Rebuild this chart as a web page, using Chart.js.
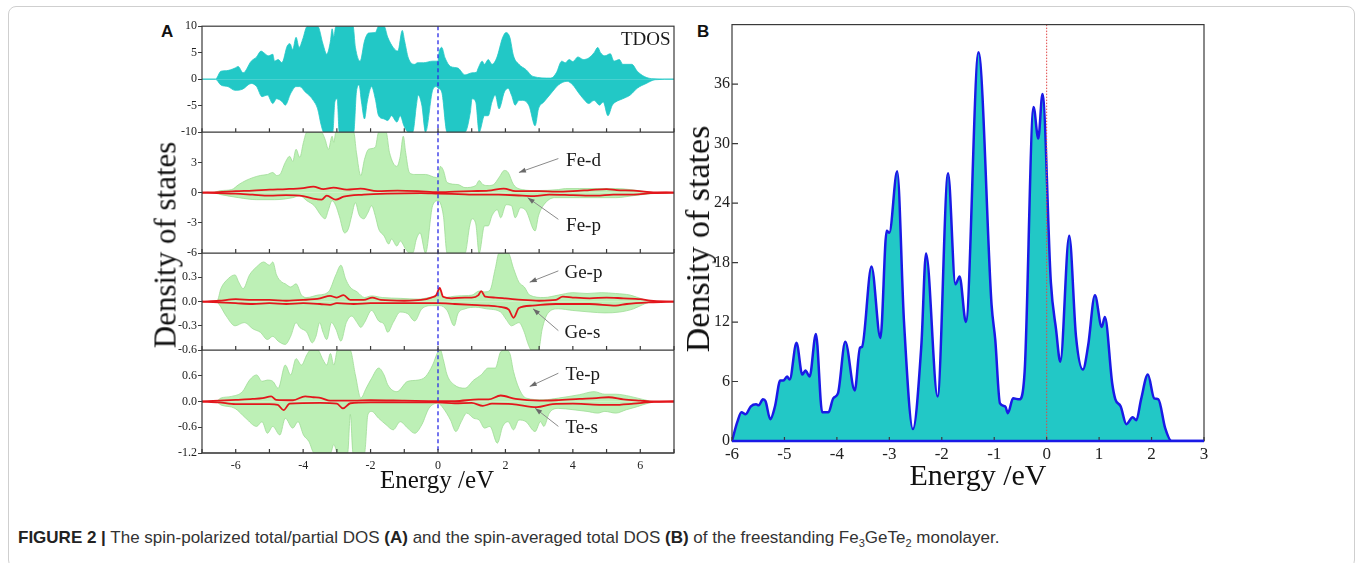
<!DOCTYPE html>
<html>
<head>
<meta charset="utf-8">
<script src="https://cdn.jsdelivr.net/npm/chart.js@4/dist/chart.umd.min.js"></script>
<style>
  html, body { margin: 0; padding: 0; background: #fff; }
  body { width: 1362px; height: 563px; position: relative; overflow: hidden; }
  .box { position: absolute; left: 8px; top: 6px; width: 1345px; height: 560px; border: 1px solid #cfcfcf; border-radius: 8px; }
  canvas { position: absolute; }
  .lbl { position: absolute; font-family: "Liberation Sans", Arial, sans-serif; font-weight: bold; font-size: 17px; color: #111; }
  .ttl { position: absolute; font-family: "Liberation Serif", "Times New Roman", serif; color: #111; white-space: nowrap; line-height: 1; }
  .rot { transform: translate(-50%, -50%) rotate(-90deg); }
  #cap { position: absolute; left: 18px; top: 529px; font-family: "Liberation Sans", Arial, sans-serif; font-size: 17px; color: #333; white-space: nowrap; line-height: 1; }
  #cap b { color: #222; }
</style>
</head>
<body>
<div class="box"></div>
<div class="lbl" style="left:161px; top:22px;">A</div>
<div class="lbl" style="left:697px; top:22px;">B</div>
<canvas id="dosA" width="534" height="455" style="left:150px; top:18px;"></canvas>
<canvas id="dosB" width="526" height="466" style="left:690px; top:13px;"></canvas>
<div class="ttl rot" style="left:165px; top:245px; font-size:31px;">Density of states</div>
<div class="ttl rot" style="left:698px; top:239px; font-size:34px;">Density of states</div>
<div class="ttl" style="left:437px; top:467px; font-size:25px; transform:translateX(-50%);">Energy /eV</div>
<div class="ttl" style="left:978px; top:460px; font-size:30px; transform:translateX(-50%);">Energy /eV</div>
<div id="cap"><b>FIGURE 2 |</b> The spin-polarized total/partial DOS <b>(A)</b> and the spin-averaged total DOS <b>(B)</b> of the freestanding Fe<sub style="font-size:11px">3</sub>GeTe<sub style="font-size:11px">2</sub> monolayer.</div>

<script>
// ---- Panel A: spin-polarized DOS, [energy eV, DOS] ----
const tdosUp = [[-7,0],[-6.6,0],[-6.44,1.5],[-6.28,1.6],[-6.02,2.1],[-5.93,2.4],[-5.78,1.2],[-5.54,3.4],[-5.38,4.2],[-5.25,5.3],[-5.17,5.0],[-5.03,4.4],[-4.9,4.7],[-4.85,3.4],[-4.74,3.7],[-4.63,3.1],[-4.47,6.3],[-4.39,6.7],[-4.31,5.6],[-4.21,7.9],[-4.12,6.0],[-4.01,7.6],[-3.89,9.9],[-3.8,10],[-3.57,10],[-3.41,6.6],[-3.3,4.7],[-3.19,7.2],[-3.14,9.5],[-3.09,8.0],[-3.03,10],[-2.52,10],[-2.45,6.0],[-2.31,3.4],[-2.18,7.2],[-2.06,8.7],[-1.86,8.8],[-1.76,10],[-1.6,10],[-1.49,7.9],[-1.33,6.0],[-1.19,5.3],[-1.06,9.2],[-0.99,7.2],[-0.88,4.0],[-0.69,2.8],[-0.61,3.1],[-0.43,3.1],[-0.16,3.4],[0,3.4],[0.03,5.0],[0.11,6.0],[0.21,4.0],[0.37,2.4],[0.59,2.1],[0.8,0.8],[1.01,1.2],[1.14,1.3],[1.2,2.2],[1.31,3.4],[1.38,2.8],[1.49,3.7],[1.6,2.8],[1.74,4.0],[1.92,7.9],[2.02,8.8],[2.13,7.9],[2.24,4.4],[2.4,2.8],[2.61,1.8],[2.82,0.5],[3.35,0.2],[3.51,1.2],[3.67,3.4],[3.78,3.1],[3.89,3.7],[4.0,3.3],[4.15,4.2],[4.31,3.7],[4.47,4.0],[4.63,5.0],[4.74,6.0],[4.82,5.0],[4.95,4.4],[5.11,4.8],[5.22,3.4],[5.38,3.7],[5.48,2.8],[5.75,2.8],[5.91,1.5],[6.12,0.5],[6.34,0.1],[7,0]];
const tdosDn = [[-7,0],[-6.6,0],[-6.44,-1.1],[-6.23,-1.4],[-6.02,-2.1],[-5.8,-1.9],[-5.54,-0.8],[-5.38,-1.4],[-5.22,-3.3],[-5.06,-3.0],[-4.9,-4.6],[-4.79,-3.7],[-4.63,-4.2],[-4.53,-4.9],[-4.37,-2.7],[-4.21,-1.4],[-4.1,-1.4],[-3.94,-2.4],[-3.83,-3.0],[-3.7,-4.0],[-3.57,-5.6],[-3.46,-8.8],[-3.39,-10],[-3.12,-10],[-3.06,-4.3],[-2.99,-3.7],[-2.93,-10],[-2.5,-10],[-2.42,-2.4],[-2.34,-1.1],[-2.27,-4.3],[-2.18,-7.5],[-2.1,-4.3],[-1.97,-1.4],[-1.86,-3.7],[-1.76,-6.9],[-1.6,-7.5],[-1.49,-7.8],[-1.38,-6.9],[-1.22,-8.1],[-1.12,-6.9],[-1.01,-8.8],[-0.88,-10],[-0.75,-10],[-0.64,-4.9],[-0.59,-3.0],[-0.48,-4.9],[-0.37,-10],[-0.16,-2.1],[-0.05,-1.4],[0,-1.7],[0.11,-2.4],[0.27,-10],[0.8,-10],[0.96,-6.2],[1.01,-3.7],[1.12,-4.3],[1.22,-10],[1.38,-6.9],[1.49,-6.9],[1.6,-4.3],[1.7,-3.0],[1.81,-5.6],[1.97,-2.4],[2.08,-1.7],[2.18,-3.0],[2.29,-4.9],[2.4,-4.0],[2.5,-4.0],[2.7,-5.0],[2.88,-8.8],[2.98,-5.6],[3.14,-4.3],[3.35,-2.7],[3.57,-1.1],[3.83,-0.4],[4.0,-1.1],[4.15,-2.4],[4.31,-3.7],[4.47,-4.6],[4.63,-4.0],[4.79,-4.9],[4.9,-4.3],[5.04,-6.9],[5.17,-4.9],[5.27,-4.3],[5.48,-3.7],[5.7,-3.0],[5.91,-1.7],[6.18,-0.8],[6.44,-0.1],[7,0]];

const feDUp = [[-7,0],[-6.7,0],[-6.44,0.2],[-6.12,0.3],[-5.91,0.8],[-5.7,1.2],[-5.48,1.5],[-5.27,1.7],[-5.06,1.8],[-4.9,2.0],[-4.79,1.7],[-4.69,1.8],[-4.53,3.0],[-4.4,3.6],[-4.31,3.1],[-4.21,4.3],[-4.1,3.5],[-3.99,5.0],[-3.89,6],[-3.46,6],[-3.35,5.3],[-3.25,4.3],[-3.14,5.6],[-3.09,5.0],[-3.03,6],[-2.5,6],[-2.42,4.0],[-2.29,1.7],[-2.18,3.3],[-2.06,4.3],[-1.86,4.5],[-1.76,6],[-1.54,6],[-1.44,4.0],[-1.22,2.6],[-1.12,3.6],[-1.03,5.6],[-0.96,4.0],[-0.85,2.0],[-0.69,1.8],[-0.37,1.8],[-0.05,1.5],[0.01,1.7],[0.07,2.6],[0.16,2.2],[0.27,1.0],[0.59,0.8],[0.8,0.5],[1.12,0.7],[1.22,1.2],[1.33,0.8],[1.49,0.7],[1.65,0.8],[1.81,1.5],[1.97,2.2],[2.08,2.0],[2.24,0.8],[2.5,0.3],[2.93,0.2],[3.57,0.3],[3.78,0.4],[4.2,0.4],[4.74,0.4],[5.27,0.4],[5.7,0.3],[6.12,0.1],[6.34,0],[7,0]];
const feDDn = [[-7,0],[-6.7,0],[-6.44,-0.2],[-5.91,-0.5],[-5.38,-0.7],[-4.85,-0.7],[-4.31,-0.5],[-4.1,-0.3],[-3.89,-0.8],[-3.67,-1.3],[-3.46,-2.3],[-3.35,-2.6],[-3.25,-1.7],[-3.14,-0.8],[-3.03,-1.3],[-2.93,-2.3],[-2.77,-4.0],[-2.66,-3.6],[-2.56,-2.3],[-2.45,-1.0],[-2.34,-2.2],[-2.2,-2.6],[-2.08,-2.0],[-1.97,-1.3],[-1.86,-2.3],[-1.76,-3.6],[-1.6,-4.3],[-1.46,-5.1],[-1.38,-4.6],[-1.22,-5.3],[-1.12,-4.8],[-0.96,-5.6],[-0.85,-6],[-0.75,-6],[-0.64,-4.6],[-0.53,-4.0],[-0.37,-6],[-0.16,-1.3],[0,-0.8],[0.16,-2.3],[0.27,-6],[0.8,-6],[0.94,-3.3],[1.01,-2.6],[1.12,-3.1],[1.22,-6],[1.38,-3.3],[1.49,-3.3],[1.6,-2.3],[1.76,-1.7],[1.86,-2.5],[2.02,-1.2],[2.18,-1.3],[2.29,-2.5],[2.45,-1.5],[2.61,-1.8],[2.88,-3.8],[2.98,-2.3],[3.14,-1.2],[3.46,-0.5],[4.2,-0.5],[4.74,-0.5],[5.27,-0.5],[5.8,-0.3],[6.34,-0.1],[7,0]];
const fePUp = [[-7,0],[-6.5,0.05],[-6,0.15],[-5.5,0.2],[-5,0.3],[-4.5,0.35],[-4,0.45],[-3.7,0.6],[-3.4,0.35],[-3.1,0.5],[-2.7,0.3],[-2.3,0.4],[-1.8,0.15],[-1.2,0.2],[-0.6,0.15],[0,0.05],[0.5,0.1],[1,0.15],[1.5,0.2],[1.95,0.4],[2.3,0.15],[3,0.15],[3.5,0.1],[4,0.15],[4.5,0.25],[5,0.35],[5.3,0.25],[5.8,0.2],[6.3,0.05],[7,0]];
const fePDn = [[-7,0],[-6.5,-0.05],[-6,-0.1],[-5.5,-0.2],[-5,-0.3],[-4.5,-0.25],[-4,-0.35],[-3.7,-0.6],[-3.45,-0.7],[-3.3,-0.3],[-3.03,-0.7],[-2.8,-0.4],[-2.2,-0.2],[-1.5,-0.1],[-0.5,-0.05],[0,-0.1],[0.6,-0.15],[1.2,-0.2],[1.8,-0.2],[2.5,-0.3],[2.85,-0.35],[3.3,-0.2],[4,-0.25],[4.7,-0.3],[5.2,-0.2],[5.8,-0.2],[6.3,-0.05],[7,0]];

const gePUp = [[-7,0],[-6.55,0.01],[-6.44,0.16],[-6.28,0.26],[-6.02,0.33],[-5.91,0.24],[-5.78,0.16],[-5.59,0.33],[-5.38,0.43],[-5.17,0.49],[-5.0,0.45],[-4.9,0.49],[-4.79,0.33],[-4.63,0.24],[-4.53,0.22],[-4.37,0.18],[-4.21,0.22],[-4.05,0.08],[-3.89,0.05],[-3.57,0.08],[-3.25,0.12],[-3.03,0.33],[-2.88,0.45],[-2.74,0.28],[-2.61,0.18],[-2.4,0.12],[-2.18,0.05],[-1.97,0.07],[-1.65,0.05],[-1.12,0.04],[-0.59,0.03],[-0.27,0.05],[-0.05,0.08],[0.05,0.16],[0.16,0.05],[0.59,0.07],[1.01,0.08],[1.22,0.13],[1.38,0.12],[1.54,0.14],[1.7,0.41],[1.81,0.6],[2.08,0.6],[2.24,0.41],[2.4,0.24],[2.56,0.18],[2.72,0.08],[3.14,0.05],[3.57,0.08],[4.0,0.11],[4.42,0.1],[4.84,0.11],[5.27,0.1],[5.7,0.08],[6.07,0.03],[6.34,0],[7,0]];
const gePDn = [[-7,0],[-6.6,0],[-6.5,-0.03],[-6.28,-0.18],[-6.02,-0.3],[-5.75,-0.26],[-5.48,-0.34],[-5.27,-0.38],[-5.06,-0.47],[-4.9,-0.43],[-4.74,-0.49],[-4.53,-0.53],[-4.37,-0.43],[-4.21,-0.26],[-4.1,-0.32],[-3.89,-0.38],[-3.73,-0.51],[-3.62,-0.43],[-3.51,-0.26],[-3.41,-0.38],[-3.3,-0.47],[-3.16,-0.26],[-3.03,-0.34],[-2.88,-0.49],[-2.72,-0.26],[-2.56,-0.18],[-2.4,-0.26],[-2.29,-0.32],[-2.18,-0.26],[-1.97,-0.11],[-1.76,-0.24],[-1.6,-0.28],[-1.49,-0.38],[-1.33,-0.26],[-1.12,-0.13],[-0.9,-0.15],[-0.69,-0.24],[-0.48,-0.09],[-0.16,-0.05],[0.05,-0.05],[0.27,-0.11],[0.48,-0.3],[0.59,-0.15],[0.8,-0.09],[1.12,-0.07],[1.44,-0.09],[1.86,-0.13],[2.02,-0.22],[2.18,-0.3],[2.4,-0.26],[2.56,-0.38],[2.66,-0.51],[2.77,-0.6],[2.98,-0.6],[3.09,-0.34],[3.25,-0.15],[3.57,-0.09],[4.0,-0.11],[4.53,-0.13],[4.95,-0.14],[5.38,-0.13],[5.8,-0.09],[6.12,-0.03],[6.4,0],[7,0]];
const geSUp = [[-7,0],[-6.5,0.01],[-6,0.03],[-5.5,0.02],[-5,0.02],[-4.5,0.01],[-4,0.02],[-3.5,0.04],[-3.2,0.07],[-3.0,0.05],[-2.8,0.08],[-2.6,0.02],[-2.2,0.02],[-1.95,0.05],[-1.7,0.02],[-1.0,0.01],[-0.5,0.02],[-0.2,0.05],[-0.05,0.08],[0.05,0.17],[0.15,0.06],[0.4,0.04],[0.8,0.05],[1.0,0.05],[1.2,0.08],[1.28,0.13],[1.4,0.06],[1.7,0.05],[2.0,0.04],[2.5,0.02],[3.0,0.01],[3.5,0.02],[3.7,0.06],[4.0,0.05],[4.5,0.04],[5.0,0.05],[5.5,0.04],[6.0,0.03],[6.3,0.01],[7,0]];
const geSDn = [[-7,0],[-6.5,-0.01],[-6,-0.02],[-5.5,-0.03],[-5,-0.02],[-4.5,-0.03],[-4,-0.02],[-3.5,-0.03],[-3.2,-0.04],[-3.0,-0.02],[-2.5,-0.03],[-2,-0.02],[-1.5,-0.02],[-0.5,-0.02],[0,-0.02],[0.5,-0.03],[1,-0.04],[1.5,-0.05],[1.9,-0.07],[2.1,-0.1],[2.24,-0.2],[2.4,-0.08],[2.8,-0.05],[3.5,-0.03],[4.5,-0.03],[5.27,-0.05],[5.6,-0.03],[6.3,-0.01],[7,0]];

const tePUp = [[-7,0],[-6.55,0.02],[-6.44,0.08],[-6.12,0.12],[-5.8,0.23],[-5.59,0.5],[-5.38,0.62],[-5.22,0.47],[-5.06,0.5],[-4.9,0.47],[-4.74,0.31],[-4.53,0.85],[-4.37,0.62],[-4.21,1.0],[-4.05,0.85],[-3.89,1.09],[-3.78,1.2],[-3.57,1.2],[-3.41,0.97],[-3.3,0.85],[-3.19,1.12],[-3.09,0.85],[-2.98,1.2],[-2.61,1.2],[-2.45,0.62],[-2.29,0.08],[-2.13,0.31],[-1.97,0.54],[-1.76,0.78],[-1.6,0.62],[-1.49,0.39],[-1.22,0.23],[-0.9,0.47],[-0.59,0.5],[-0.37,0.58],[-0.16,0.85],[0,1.16],[0.07,1.2],[0.16,0.97],[0.27,0.62],[0.48,0.39],[0.8,0.31],[1.06,0.5],[1.28,0.62],[1.49,0.78],[1.7,0.78],[1.86,1.16],[2.0,1.2],[2.13,1.12],[2.24,0.7],[2.4,0.31],[2.61,0.08],[3.14,0.04],[3.57,0.08],[4.2,0.16],[4.63,0.23],[4.95,0.17],[5.27,0.17],[5.7,0.12],[6.12,0.04],[6.4,0],[7,0]];
const tePDn = [[-7,0],[-6.6,0],[-6.44,-0.08],[-6.02,-0.16],[-5.7,-0.39],[-5.38,-0.58],[-5.22,-0.47],[-5.06,-0.74],[-4.9,-0.58],[-4.69,-0.78],[-4.53,-0.39],[-4.31,-0.62],[-4.15,-0.47],[-3.99,-0.78],[-3.83,-0.93],[-3.67,-1.2],[-3.19,-1.2],[-3.09,-1.0],[-2.98,-1.2],[-2.68,-1.2],[-2.6,-0.3],[-2.52,-1.2],[-2.18,-1.2],[-2.08,-0.31],[-1.97,-0.23],[-1.76,-0.39],[-1.54,-0.54],[-1.33,-0.66],[-1.12,-0.47],[-0.9,-0.62],[-0.69,-0.74],[-0.48,-0.54],[-0.27,-0.16],[0,-0.04],[0.16,-0.16],[0.37,-0.43],[0.53,-0.7],[0.69,-0.47],[0.85,-0.27],[1.06,-0.39],[1.22,-0.43],[1.38,-0.62],[1.54,-0.58],[1.76,-0.97],[1.92,-0.58],[2.08,-0.47],[2.24,-0.66],[2.4,-0.43],[2.61,-0.47],[2.88,-0.7],[3.04,-0.47],[3.14,-0.58],[3.3,-0.27],[3.57,-0.16],[4.0,-0.19],[4.42,-0.23],[4.74,-0.27],[4.95,-0.23],[5.27,-0.27],[5.59,-0.19],[5.91,-0.12],[6.23,-0.04],[6.5,0],[7,0]];
const teSUp = [[-7,0],[-6.5,0.02],[-6,0.04],[-5.5,0.06],[-5.2,0.08],[-4.95,0.12],[-4.8,0.04],[-4.3,0.03],[-3.94,0.12],[-3.7,0.1],[-3.46,0.08],[-3.2,0.02],[-2.5,0.02],[-2,0.03],[-1,0.02],[0,0.01],[0.5,0.01],[1.2,0.05],[1.5,0.05],[1.86,0.14],[2.3,0.06],[3,0.02],[3.5,0.03],[4.2,0.06],[4.7,0.08],[5.06,0.1],[5.5,0.05],[6,0.02],[6.4,0],[7,0]];
const teSDn = [[-7,0],[-6.5,-0.02],[-6,-0.06],[-5.5,-0.06],[-5,-0.06],[-4.75,-0.08],[-4.58,-0.2],[-4.4,-0.05],[-3.5,-0.03],[-3,-0.05],[-2.82,-0.16],[-2.6,-0.04],[-2,-0.02],[-1,-0.02],[0,-0.02],[0.5,-0.04],[1,-0.03],[1.33,-0.1],[1.6,-0.05],[2.2,-0.06],[2.93,-0.13],[3.4,-0.06],[4,-0.05],[4.6,-0.07],[5.2,-0.08],[5.8,-0.05],[6.4,-0.01],[7,0]];

// ---- Panel B: spin-averaged total DOS ----
const tdosAvg = [[-6,0],[-5.9,1.9],[-5.82,2.9],[-5.74,2.7],[-5.64,3.5],[-5.54,3.7],[-5.49,3.6],[-5.41,4.2],[-5.36,4.0],[-5.27,2.2],[-5.18,3.5],[-5.08,6.1],[-5.02,6.1],[-4.95,6.5],[-4.9,6.2],[-4.77,9.9],[-4.66,6.7],[-4.6,7.1],[-4.52,6.5],[-4.4,10.8],[-4.28,2.9],[-4.16,2.9],[-4.07,4.3],[-3.98,4.8],[-3.84,10.0],[-3.66,5.1],[-3.56,9.4],[-3.52,9.5],[-3.34,17.6],[-3.17,10.4],[-3.05,21.2],[-3.0,21.0],[-2.85,27.2],[-2.72,12],[-2.55,1.2],[-2.39,9.6],[-2.3,18.9],[-2.08,4.5],[-1.88,27.0],[-1.74,15.8],[-1.66,16.6],[-1.54,12.0],[-1.3,39.2],[-1.05,13.7],[-0.98,10.2],[-0.89,3.8],[-0.79,3.5],[-0.74,2.8],[-0.64,4.3],[-0.52,4.2],[-0.42,7.0],[-0.25,33.7],[-0.16,30.5],[-0.08,35.0],[0.08,16.0],[0.18,11.2],[0.26,8.0],[0.43,20.7],[0.56,10.5],[0.69,7.2],[0.79,9.6],[0.92,14.7],[1.05,11.5],[1.11,12.5],[1.25,5.8],[1.31,4.2],[1.41,3.5],[1.52,1.7],[1.64,2.4],[1.71,2.1],[1.8,4.2],[1.93,6.7],[2.05,4.3],[2.13,4.2],[2.26,1.3],[2.38,0],[3,0]];

// annotation labels in panel A (data coordinates of the label and its arrow)
const notes = [
  { axis: 'yTot', text: 'TDOS', at: [6.9, 7.3], align: 'right' },
  { axis: 'yFe', text: 'Fe-d', at: [3.8, 3.1], from: [3.57, 3.38], to: [2.4, 2.0] },
  { axis: 'yFe', text: 'Fe-p', at: [3.8, -3.3], from: [3.57, -2.65], to: [2.66, -0.5] },
  { axis: 'yGe', text: 'Ge-p', at: [3.75, 0.35], from: [3.57, 0.38], to: [2.72, 0.24] },
  { axis: 'yGe', text: 'Ge-s', at: [3.75, -0.385], from: [3.57, -0.36], to: [2.82, -0.09] },
  { axis: 'yTe', text: 'Te-p', at: [3.78, 0.62], from: [3.57, 0.66], to: [2.72, 0.35] },
  { axis: 'yTe', text: 'Te-s', at: [3.78, -0.62], from: [3.57, -0.58], to: [2.88, -0.155] }
];

const pts = arr => arr.map(([x, y]) => ({ x, y }));
const SERIF = '"Liberation Serif", "Times New Roman", serif';
const TEAL = '#22c8c6';
const GREEN = '#bdf0b6';
const RED = '#e3161c';

// draws the box, the separators between stacked panels, inward ticks and the Fermi line
const framePlugin = {
  id: 'frame',
  afterDatasetsDraw(chart, args, opts) {
    const { ctx, chartArea: a, scales } = chart;
    const x = scales.x;
    ctx.save();
    if (opts.zero) {
      const px = x.getPixelForValue(0);
      ctx.strokeStyle = opts.zero.color;
      ctx.lineWidth = opts.zero.width;
      ctx.setLineDash(opts.zero.dash);
      ctx.beginPath(); ctx.moveTo(px, a.top); ctx.lineTo(px, a.bottom); ctx.stroke();
      ctx.setLineDash([]);
    }
    ctx.strokeStyle = '#3a3a3a';
    ctx.lineWidth = 1.2;
    ctx.strokeRect(a.left, a.top, a.width, a.height);
    (opts.panels || []).forEach(id => {
      const s = scales[id];
      ctx.beginPath();
      ctx.moveTo(a.left, s.bottom); ctx.lineTo(a.right, s.bottom);
      x.ticks.forEach(t => {
        const px = x.getPixelForValue(t.value);
        ctx.moveTo(px, s.bottom); ctx.lineTo(px, s.bottom - 4);
      });
      ctx.stroke();
    });
    if (opts.yIn) {
      const y = scales.y;
      ctx.beginPath();
      y.ticks.forEach(t => {
        if (t.value > 36) return;
        const py = y.getPixelForValue(t.value);
        ctx.moveTo(a.left, py); ctx.lineTo(a.left + 6, py);
      });
      ctx.stroke();
    }
    if (opts.base) {
      const py = scales.y.getPixelForValue(0);
      ctx.strokeStyle = opts.base;
      ctx.lineWidth = 2.5;
      ctx.beginPath(); ctx.moveTo(a.left, py); ctx.lineTo(a.right, py); ctx.stroke();
    }
    ctx.restore();
  }
};

const notePlugin = {
  id: 'notes',
  afterDatasetsDraw(chart, args, opts) {
    if (!opts.items) return;
    const { ctx, scales } = chart;
    const xs = scales.x;
    ctx.save();
    opts.items.forEach(n => {
      const ys = scales[n.axis];
      ctx.fillStyle = '#1a1a1a';
      ctx.font = '19px ' + SERIF;
      ctx.textBaseline = 'middle';
      ctx.textAlign = n.align || 'left';
      ctx.fillText(n.text, xs.getPixelForValue(n.at[0]), ys.getPixelForValue(n.at[1]));
      if (n.from) {
        const x0 = xs.getPixelForValue(n.from[0]), y0 = ys.getPixelForValue(n.from[1]);
        const x1 = xs.getPixelForValue(n.to[0]), y1 = ys.getPixelForValue(n.to[1]);
        const ang = Math.atan2(y1 - y0, x1 - x0);
        ctx.strokeStyle = '#8a8a8a';
        ctx.fillStyle = '#6a6a6a';
        ctx.lineWidth = 1;
        ctx.beginPath(); ctx.moveTo(x0, y0); ctx.lineTo(x1, y1); ctx.stroke();
        ctx.beginPath();
        ctx.moveTo(x1, y1);
        ctx.lineTo(x1 - 7 * Math.cos(ang) + 2.5 * Math.sin(ang), y1 - 7 * Math.sin(ang) - 2.5 * Math.cos(ang));
        ctx.lineTo(x1 - 7 * Math.cos(ang) - 2.5 * Math.sin(ang), y1 - 7 * Math.sin(ang) + 2.5 * Math.cos(ang));
        ctx.closePath(); ctx.fill();
      }
    });
    ctx.restore();
  }
};

function fillSet(data, axis, color, edge) {
  return { data: pts(data), yAxisID: axis, fill: 'origin', backgroundColor: color, borderColor: edge, borderWidth: 0.8,
           pointRadius: 0, cubicInterpolationMode: 'monotone', order: 2 };
}
function lineSet(data, axis) {
  return { data: pts(data), yAxisID: axis, fill: false, borderColor: RED, borderWidth: 1.8,
           pointRadius: 0, cubicInterpolationMode: 'monotone', order: 1 };
}
function yStack(min, max, step, weight, fmt) {
  return {
    type: 'linear', position: 'left', stack: 'dos', stackWeight: weight, min, max,
    afterFit: s => { s.width = 52; },
    grid: { drawOnChartArea: false, drawTicks: true, tickLength: 4, color: '#3a3a3a' },
    border: { display: false },
    ticks: { stepSize: step, autoSkip: false, padding: 1, color: '#222', font: { family: SERIF, size: 12 }, callback: fmt }
  };
}

Chart.defaults.animation = false;

new Chart(document.getElementById('dosA'), {
  type: 'line',
  data: {
    datasets: [
      lineSet(fePUp, 'yFe'), lineSet(fePDn, 'yFe'),
      lineSet(geSUp, 'yGe'), lineSet(geSDn, 'yGe'),
      lineSet(teSUp, 'yTe'), lineSet(teSDn, 'yTe'),
      fillSet(tdosUp, 'yTot', TEAL, TEAL), fillSet(tdosDn, 'yTot', TEAL, TEAL),
      fillSet(feDUp, 'yFe', GREEN, '#9edc96'), fillSet(feDDn, 'yFe', GREEN, '#9edc96'),
      fillSet(gePUp, 'yGe', GREEN, '#9edc96'), fillSet(gePDn, 'yGe', GREEN, '#9edc96'),
      fillSet(tePUp, 'yTe', GREEN, '#9edc96'), fillSet(tePDn, 'yTe', GREEN, '#9edc96')
    ]
  },
  options: {
    responsive: false,
    devicePixelRatio: 1,
    layout: { padding: { top: 8, right: 10, left: 0, bottom: 0 } },
    plugins: {
      legend: { display: false }, tooltip: { enabled: false },
      frame: { zero: { color: '#2a2ae6', width: 1.3, dash: [4, 3] }, panels: ['yTot', 'yFe', 'yGe', 'yTe'] },
      notes: { items: notes }
    },
    scales: {
      x: {
        type: 'linear', min: -7, max: 7,
        afterFit: s => { s.height = 20; },
        grid: { drawOnChartArea: false, drawTicks: false },
        border: { display: false },
        ticks: { stepSize: 1, padding: 6, maxRotation: 0, autoSkip: false, color: '#222', font: { family: SERIF, size: 12 },
                 callback: v => (v % 2 === 0 && Math.abs(v) < 7) ? String(v) : '' }
      },
      // listed bottom-up: left stacked axes are placed in reverse order
      yTe: yStack(-1.2, 1.2, 0.6, 103, v => v > 1 ? '' : v.toFixed(1)),
      yGe: yStack(-0.6, 0.6, 0.3, 97, v => v > 0.5 ? '' : v.toFixed(1)),
      yFe: yStack(-6, 6, 3, 121, v => v > 5 ? '' : String(Math.round(v))),
      yTot: yStack(-10, 10, 5, 106, v => String(Math.round(v)))
    }
  },
  plugins: [framePlugin, notePlugin]
});

new Chart(document.getElementById('dosB'), {
  type: 'line',
  data: {
    datasets: [{
      data: pts(tdosAvg), fill: 'origin', backgroundColor: TEAL, borderColor: '#1a1ae6', borderWidth: 2.5,
      pointRadius: 0, cubicInterpolationMode: 'monotone'
    }]
  },
  options: {
    responsive: false,
    devicePixelRatio: 1,
    layout: { padding: { top: 10, right: 12, left: 0, bottom: 0 } },
    plugins: {
      legend: { display: false }, tooltip: { enabled: false },
      frame: { zero: { color: '#e04848', width: 1, dash: [1.5, 1.5] }, panels: ['y'], yIn: true, base: '#1a1ae6' }
    },
    scales: {
      x: {
        type: 'linear', min: -6, max: 3,
        afterFit: s => { s.height = 38; },
        grid: { display: false, drawTicks: false, tickLength: 0 }, border: { display: false },
        ticks: { stepSize: 1, padding: 3, maxRotation: 0, autoSkip: false, color: '#222', font: { family: SERIF, size: 17 } }
      },
      y: {
        type: 'linear', min: 0, max: 42,
        afterFit: s => { s.width = 42; },
        grid: { display: false, drawTicks: false, tickLength: 0 }, border: { display: false },
        ticks: { stepSize: 6, autoSkip: false, padding: 2, color: '#222', font: { family: SERIF, size: 16 },
                 callback: v => v > 36 ? '' : String(v) }
      }
    }
  },
  plugins: [framePlugin]
});
</script>
</body>
</html>
